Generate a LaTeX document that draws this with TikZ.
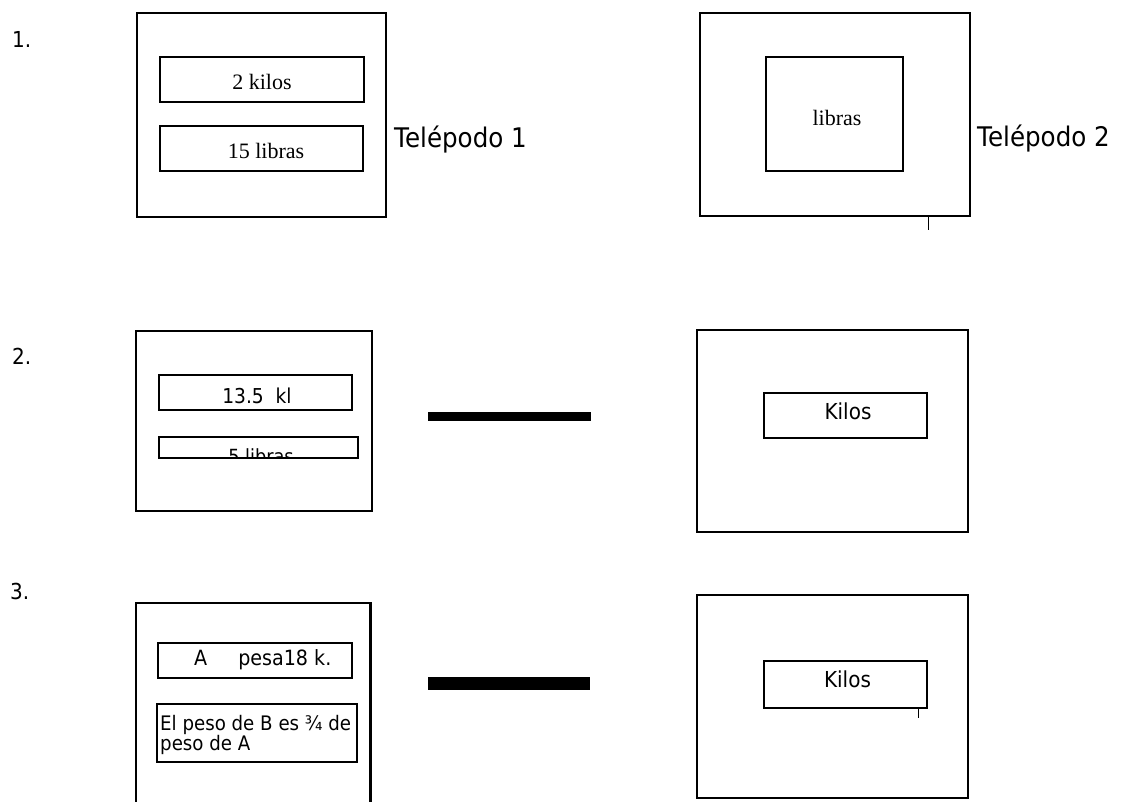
\documentclass[tikz,border=0pt]{standalone}
\usepackage{fontspec}
\setmainfont{Liberation Serif}
\newfontfamily\tah[FakeStretch=0.91]{DejaVu Sans}
\begin{document}
\begin{tikzpicture}[x=1bp,y=-1bp,
  outerbox/.style={draw, line width=2.2bp, inner sep=0pt},
  innerbox/.style={draw, line width=1.8bp, inner sep=0pt},
  seriftxt/.style={inner sep=0pt, anchor=base, font={\fontsize{22bp}{26bp}\selectfont}},
  sanstxt/.style={inner sep=0pt, anchor=base, font={\tah\fontsize{#1bp}{#1bp}\selectfont}},
  blackbar/.style={fill=black, draw=none, inner sep=0pt},
  tickline/.style={line width=1bp}]
\useasboundingbox (0,0) rectangle (1121,802);

% ---------- row 1 ----------
\node[sanstxt=22, anchor=base west] (n1) at (12,48) {1.};
\node[outerbox, minimum width=249bp, minimum height=204bp] (o1L) at (261.5,115) {};
\node[innerbox, minimum width=204bp, minimum height=45bp] (b1a) at (262,79.5) {};
\node[seriftxt] (t1a) at (262,90) {2 kilos};
\node[innerbox, minimum width=203bp, minimum height=45bp] (b1b) at (261.5,148.5) {};
\node[seriftxt] (t1b) at (266,158) {15 libras};
\node[sanstxt=27, anchor=base west] (tel1) at (394,147) {Telépodo 1};

\node[outerbox, minimum width=270bp, minimum height=203bp] (o1R) at (835,114.5) {};
\node[innerbox, minimum width=137bp, minimum height=114bp] (b1c) at (834.5,114) {};
\node[seriftxt] (t1c) at (837,125) {libras};
\node[sanstxt=27, anchor=base west] (tel2) at (977,146) {Telépodo 2};
\coordinate (k1a) at (928.5,216);
\coordinate (k1b) at (928.5,230);
\draw[tickline] (k1a) -- (k1b);

% ---------- row 2 ----------
\node[sanstxt=22, anchor=base west] (n2) at (12,364) {2.};
\node[outerbox, minimum width=236bp, minimum height=180bp] (o2L) at (253.6,421) {};
\node[innerbox, minimum width=193bp, minimum height=35bp] (b2a) at (255.5,392.5) {};
\node[sanstxt=20.5] (t2a) at (257,403) {13.5~~kl};
\node[innerbox, minimum width=199bp, minimum height=21bp] (b2b) at (258.5,447.5) {};
\begin{scope}
  \clip (b2b.north west) rectangle (b2b.south east);
  \node[sanstxt=19.5] (t2b) at (261,463) {5 libras};
\end{scope}
\node[blackbar, minimum width=163bp, minimum height=9bp] (bar2) at (509.5,416.5) {};

\node[outerbox, minimum width=271bp, minimum height=202bp] (o2R) at (832.5,431) {};
\node[innerbox, minimum width=163bp, minimum height=45bp] (b2c) at (845.5,415.5) {};
\node[sanstxt=22] (t2c) at (848,419) {Kilos};

% ---------- row 3 ----------
\node[sanstxt=22, anchor=base west] (n3) at (10,599) {3.};
\coordinate (o3a) at (135.6,805);
\coordinate (o3b) at (135.6,603);
\coordinate (o3c) at (370.5,603);
\coordinate (o3d) at (370.5,805);
\draw[line width=2.2bp] (o3a) -- (o3b) -- (o3c) -- (o3d);
\node[innerbox, minimum width=194bp, minimum height=35bp] (b3a) at (255,660.5) {};
\node[sanstxt=21, anchor=base west] (t3a) at (194,665) {A\hspace{31bp}pesa18 k.};
\node[innerbox, minimum width=200bp, minimum height=58bp] (b3b) at (257,733) {};
\node[sanstxt=20, anchor=base west] (t3b) at (160,730) {El peso de B es ¾ de};
\node[sanstxt=20, anchor=base west] (t3c) at (160,750) {peso de A};
\node[blackbar, minimum width=162bp, minimum height=13bp] (bar3) at (509,683.5) {};

\node[outerbox, minimum width=271bp, minimum height=203bp] (o3R) at (832.5,696.5) {};
\node[innerbox, minimum width=163bp, minimum height=47bp] (b3c) at (845.5,684.5) {};
\node[sanstxt=22] (t3d) at (847.5,687) {Kilos};
\coordinate (k3a) at (918,708);
\coordinate (k3b) at (918,718);
\draw[tickline] (k3a) -- (k3b);
\end{tikzpicture}
\end{document}
